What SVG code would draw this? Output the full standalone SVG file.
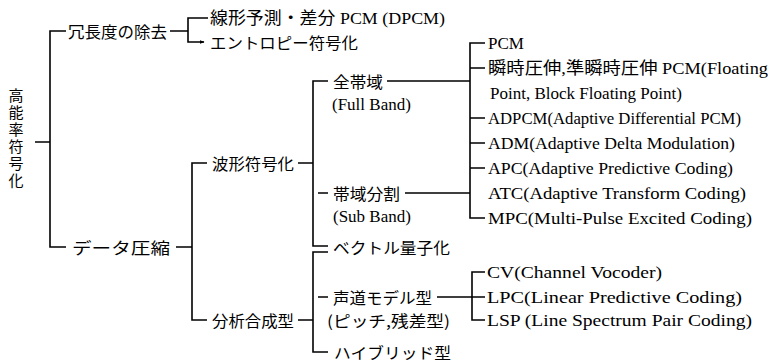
<svg xmlns="http://www.w3.org/2000/svg" width="772" height="363" viewBox="0 0 772 363">
<defs>
<marker id="arr" viewBox="0 0 10 10" refX="9" refY="5" markerWidth="5" markerHeight="5" orient="auto" markerUnits="userSpaceOnUse">
<path d="M0,1 L10,5 L0,9 Z" fill="#000"/>
</marker>
</defs>
<style>
text{fill:#000;dominant-baseline:central}
.jp{font-family:"Noto Sans CJK JP","Noto Sans CJK SC",sans-serif;font-size:15.5px}
.rt{font-family:"Noto Sans CJK JP","Noto Sans CJK SC",sans-serif;font-size:15px;writing-mode:vertical-rl;letter-spacing:2px}
.en{font-family:"Liberation Serif","Noto Sans CJK JP",serif;font-size:17px}
.mx{font-family:"Liberation Serif","Noto Sans CJK JP",serif;font-size:16.5px}
.ln{stroke:#000;stroke-width:1.6;fill:none}
</style>
<rect width="772" height="363" fill="#fff"/>
<g id="connectors" class="ln">
<path d="M35,142 H50 M66,31 H50 V247 H66"/>
<path d="M170,31 H188 M208,18 H188 V42 H204" marker-end="url(#arr)"/>
<path d="M176,247 H192 M207,163 H192 V320 H207"/>
<path d="M298,163 H313 M328,81 H313 V246 H328 M318,193 H328"/>
<path d="M298,320 H313 M328,252 H313 V352 H328 M318,297 H328"/>
<path d="M387,81 H470 M405,193 H470 M485,43 H470 V218 H485 M470,68 H485 M470,118 H485 M470,143 H485 M470,168 H485"/>
<path d="M437,297 H472 M485,272 H472 V320 H485 M472,297 H485"/>
</g>
<g id="n-root"><text class="rt" x="16" y="88">高能率符号化</text></g>
<g id="n-redundancy"><text class="jp" x="68" y="31" textLength="99" lengthAdjust="spacingAndGlyphs">冗長度の除去</text></g>
<g id="n-dpcm"><text class="mx" x="210" y="18" textLength="235" lengthAdjust="spacingAndGlyphs">線形予測・差分 PCM (DPCM)</text></g>
<g id="n-entropy"><text class="jp" x="210" y="42" textLength="148" lengthAdjust="spacingAndGlyphs">エントロピー符号化</text></g>
<g id="n-compress"><text class="jp" x="72" y="247" textLength="98" lengthAdjust="spacingAndGlyphs">データ圧縮</text></g>
<g id="n-waveform"><text class="jp" x="212" y="163" textLength="82" lengthAdjust="spacingAndGlyphs">波形符号化</text></g>
<g id="n-analysis"><text class="jp" x="212" y="320" textLength="82" lengthAdjust="spacingAndGlyphs">分析合成型</text></g>
<g id="n-fullband"><text class="jp" x="333" y="81" textLength="50" lengthAdjust="spacingAndGlyphs">全帯域</text><text class="en" x="332" y="104">(Full Band)</text></g>
<g id="n-subband"><text class="jp" x="333" y="193" textLength="67" lengthAdjust="spacingAndGlyphs">帯域分割</text><text class="en" x="333" y="216">(Sub Band)</text></g>
<g id="n-vq"><text class="jp" x="333" y="247" textLength="117" lengthAdjust="spacingAndGlyphs">ベクトル量子化</text></g>
<g id="n-vocal"><text class="jp" x="333" y="297" textLength="99" lengthAdjust="spacingAndGlyphs">声道モデル型</text><text class="jp" x="327" y="320" textLength="123" lengthAdjust="spacingAndGlyphs">(ピッチ,残差型)</text></g>
<g id="n-hybrid"><text class="jp" x="334" y="352" textLength="117" lengthAdjust="spacingAndGlyphs">ハイブリッド型</text></g>
<g id="n-pcm"><text class="en" x="488" y="43">PCM</text></g>
<g id="n-float"><text class="mx" x="488" y="68" textLength="280" lengthAdjust="spacingAndGlyphs">瞬時圧伸,準瞬時圧伸 PCM(Floating</text><text class="en" x="490" y="93" textLength="192" lengthAdjust="spacingAndGlyphs">Point, Block Floating Point)</text></g>
<g id="n-adpcm"><text class="en" x="488" y="118" textLength="253" lengthAdjust="spacingAndGlyphs">ADPCM(Adaptive Differential PCM)</text></g>
<g id="n-adm"><text class="en" x="488" y="143" textLength="247" lengthAdjust="spacingAndGlyphs">ADM(Adaptive Delta Modulation)</text></g>
<g id="n-apc"><text class="en" x="488" y="168" textLength="245" lengthAdjust="spacingAndGlyphs">APC(Adaptive Predictive Coding)</text></g>
<g id="n-atc"><text class="en" x="488" y="193" textLength="258" lengthAdjust="spacingAndGlyphs">ATC(Adaptive Transform Coding)</text></g>
<g id="n-mpc"><text class="en" x="488" y="218" textLength="264" lengthAdjust="spacingAndGlyphs">MPC(Multi-Pulse Excited Coding)</text></g>
<g id="n-cv"><text class="en" x="487" y="272" textLength="175" lengthAdjust="spacingAndGlyphs">CV(Channel Vocoder)</text></g>
<g id="n-lpc"><text class="en" x="487" y="297" textLength="255" lengthAdjust="spacingAndGlyphs">LPC(Linear Predictive Coding)</text></g>
<g id="n-lsp"><text class="en" x="487" y="320" textLength="265" lengthAdjust="spacingAndGlyphs">LSP (Line Spectrum Pair Coding)</text></g>
</svg>
